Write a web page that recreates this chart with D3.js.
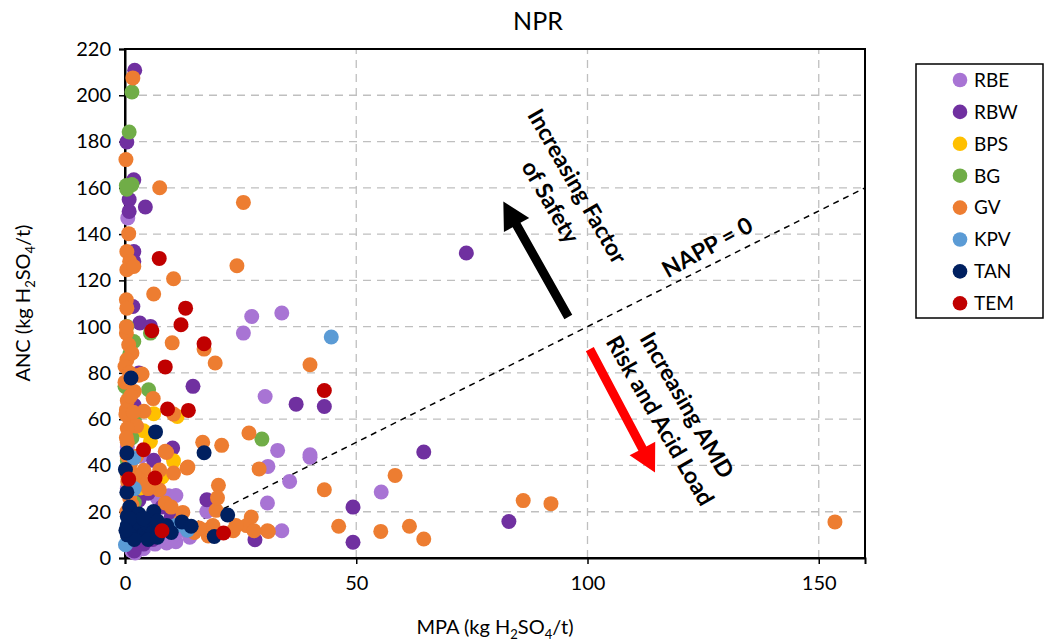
<!DOCTYPE html>
<html><head><meta charset="utf-8">
<script src="https://cdn.jsdelivr.net/npm/d3@7"></script>
<style>
body{margin:0;background:#fff}
svg{display:block}
text{font-family:Lato,"Open Sans",sans-serif;fill:#000}
</style>
</head><body>
<svg id="chart" width="1045" height="642"></svg>
<script>
// ---------- DATA ----------
const seriesNames  = ["RBE","RBW","BPS","BG","GV","KPV","TAN","TEM"];
const seriesColors = ["#A874D4","#7030A0","#FFC000","#70AD47","#ED7D31","#5B9BD5","#002060","#C00000"];
const xTicks = [0,50,100,150];
const yTicks = [0,20,40,60,80,100,120,140,160,180,200,220];

// [MPA, ANC] pairs per site
const RBE = [[27.4,104.4],[33.9,105.9],[25.6,97.2],[30.3,69.8],[33,46.5],[40,44.6],[40,43.6],[30.9,39.6],[35.6,33.1],[30.8,23.8],[55.4,28.5],[33.9,11.8],[17.7,20.1],[0.6,147],[9.4,26.9],[2.2,2.2],[4,4],[6.5,6],[9,6.5],[11,7],[8,9],[10.5,10],[3,8],[5,12],[1,55],[0.5,48],[3.5,44],[12,12],[14,9],[7,26],[11,27],[2,20],[0.5,30],[1.5,3]];
const RBW = [[2.1,210.8],[0.4,179.8],[1.9,163.5],[0.9,154.9],[0.9,149.8],[4.4,151.7],[1.9,132.5],[1.9,128.2],[1.7,108.7],[3.2,101.6],[5.5,100.1],[14.7,74.2],[6.2,42.2],[10.3,47.5],[17.7,25.2],[37,66.5],[43.1,65.5],[64.6,45.8],[49.3,22],[49.3,6.8],[28.1,7.9],[73.8,131.8],[83,15.8],[3,80],[2,66],[5,28],[3,25],[8,22],[4,6],[6,8],[2,3],[10,18],[2,55]];
const BPS = [[11.3,61.2],[6.2,62.4],[5.5,50.4],[10.5,42],[3.3,30.3],[2,58],[4,55],[1,40],[8,35]];
const BG  = [[1.5,201.4],[0.9,184.1],[0.4,159.4],[1.5,161.4],[0.3,161],[0.4,100.1],[5.5,97.2],[1.9,93.6],[0,74.2],[5.1,72.7],[29.6,51.4],[1,88],[2,60],[1.5,52],[0.5,42],[2,24],[1,70]];
const GV  = [[1.7,207.5],[0.2,172.2],[7.5,160],[25.6,153.7],[0.8,140.2],[0.4,132.5],[1,128.2],[0.4,124.6],[1.9,126],[24.2,126.3],[10.5,120.7],[6.2,114.1],[0.3,111.6],[0.4,108],[10.2,93],[17.1,90.3],[0.3,97.2],[0.8,92.2],[1.5,88.6],[0.4,85.7],[0,82.8],[19.5,84.3],[40,83.5],[1,80],[3,79],[3.7,79.5],[6.1,68.9],[10.5,62.2],[4.1,63.4],[0.5,68],[0.3,64],[1,60],[2.5,57],[26.8,54],[16.8,50],[20.9,48.7],[29,38.5],[9,45.6],[8.7,46.1],[13.6,39.3],[4.1,37.9],[10.5,36.7],[20.2,31.4],[43.1,29.5],[7.4,29.5],[8.7,23.8],[12.5,19.7],[19.7,20.6],[27.3,17.7],[26.3,14],[27.9,11.8],[30.8,11.8],[31,11.5],[23.4,11.8],[17.5,12],[18,9.5],[19,14],[15,11],[46.2,13.7],[55.3,11.5],[61.5,13.7],[64.6,8.2],[58.4,35.7],[86.1,24.8],[92.1,23.5],[153.5,15.6],[0.5,50],[0.5,44],[0.5,36],[1,30],[3,17],[10,22],[12,16],[1,26],[5,30],[7.5,38],[2,72],[0,76],[13.4,38.9],[20,26],[0.5,56],[16,13],[24,14],[0.3,100],[1.2,70],[0.2,62],[1.8,63],[0.3,52],[1.2,41],[0.6,33],[1.5,23],[0.4,20],[2.5,44],[3,34],[4.5,32],[2,36]];
const KPV = [[44.6,95.5],[1.9,43.2],[0.1,5.7],[1,10],[13.5,12],[2,30],[11,14]];
const TAN = [[1.3,77.8],[6.6,54.5],[0.4,45.4],[17.1,45.5],[0.1,38.2],[0.4,28.4],[6.2,20.1],[12.3,15.6],[14.3,13.7],[19.3,9.3],[22.2,18.6],[1,22],[0.5,18],[0.5,14],[0.5,10],[2,12],[3,15],[4,10],[5,14],[6,11],[7,16],[8,12],[9,14],[2,8],[3,19],[5,8],[7,9],[1,17],[0.2,12],[4,17],[10,11]];
const TEM = [[7.4,129.5],[13.1,108],[12.1,100.8],[5.8,98.2],[17.1,92.6],[8.7,82.6],[9.2,64.4],[13.7,63.8],[43.1,72.4],[4,46.8],[6.5,34.6],[0.8,34.1],[8,11.8],[21.3,10.8]];
const seriesData = [RBE,RBW,BPS,BG,GV,KPV,TAN,TEM];

// ---------- CHART ----------
const svg = d3.select("#chart");
const x = d3.scaleLinear().domain([0,160]).range([125,865]);
const y = d3.scaleLinear().domain([0,220]).range([558,49]);

// gridlines
svg.append("g").selectAll("line").data(yTicks.filter(d=>d>0&&d<220)).join("line")
  .attr("x1",x(0)).attr("x2",x(160)).attr("y1",d=>y(d)).attr("y2",d=>y(d))
  .attr("stroke","#bfbfbf").attr("stroke-width",1.3).attr("stroke-dasharray","8,6");
svg.append("g").selectAll("line").data(xTicks.filter(d=>d>0)).join("line")
  .attr("y1",y(0)).attr("y2",y(220)).attr("x1",d=>x(d)).attr("x2",d=>x(d))
  .attr("stroke","#bfbfbf").attr("stroke-width",1.3).attr("stroke-dasharray","8,6");

// NAPP = 0 line
svg.append("line").attr("x1",x(0)).attr("y1",y(0)).attr("x2",x(160)).attr("y2",y(160))
  .attr("stroke","#000").attr("stroke-width",1.5).attr("stroke-dasharray","6,5");

// frame
svg.append("rect").attr("x",x(0)).attr("y",y(220)).attr("width",x(160)-x(0)).attr("height",y(0)-y(220))
  .attr("fill","none").attr("stroke","#000").attr("stroke-width",2);

// axes
const yAxis = svg.append("g").attr("transform",`translate(${x(0)},0)`)
  .call(d3.axisLeft(y).tickValues(yTicks).tickSize(6).tickPadding(8));
const xAxis = svg.append("g").attr("transform",`translate(0,${y(0)})`)
  .call(d3.axisBottom(x).tickValues(xTicks).tickSize(6).tickPadding(12));
[yAxis,xAxis].forEach(a=>{
  a.select(".domain").attr("stroke","#000").attr("stroke-width",2);
  a.selectAll(".tick line").attr("stroke","#000").attr("stroke-width",1.5);
  a.selectAll(".tick text").attr("font-size",20).attr("font-family","Lato").attr("fill","#222");
});

// points
seriesData.forEach((data,i)=>{
  svg.append("g").selectAll("circle").data(data).join("circle")
    .attr("cx",d=>x(d[0])).attr("cy",d=>y(d[1])).attr("r",7.5)
    .attr("fill",seriesColors[i]);
});

// arrows
function arrow(d0,d1,color){
  const x0=x(d0[0]),y0=y(d0[1]),x1=x(d1[0]),y1=y(d1[1]);
  const L=Math.hypot(x1-x0,y1-y0), ux=(x1-x0)/L, uy=(y1-y0)/L, px=-uy, py=ux;
  const sw=4.5, hl=27, hw=14.5;
  const bx=x1-ux*hl, by=y1-uy*hl;
  const pts=[[x0+px*sw,y0+py*sw],[bx+px*sw,by+py*sw],[bx+px*hw,by+py*hw],[x1,y1],
             [bx-px*hw,by-py*hw],[bx-px*sw,by-py*sw],[x0-px*sw,y0-py*sw]];
  svg.append("polygon").attr("points",pts.map(p=>p.join(",")).join(" ")).attr("fill",color);
}
arrow([95.85,104.2],[81.8,154.1],"#000");
arrow([100.5,90.3],[114.6,37],"#FF0000");

// annotation text
function rotText(center,angle,lines,spacing){
  const cx=x(center[0]), cy=y(center[1]);
  const a=angle*Math.PI/180, px=-Math.sin(a), py=Math.cos(a);
  lines.forEach((t,k)=>{
    const off=(k-(lines.length-1)/2)*spacing;
    svg.append("text").attr("transform",`translate(${cx+px*off},${cy+py*off}) rotate(${angle})`)
      .attr("text-anchor","middle").attr("dy","0.35em")
      .attr("font-size",23).attr("font-weight",700).text(t);
  });
}
rotText([94.9,157.3],60,["Increasing Factor","of Safety"],31);
rotText([125.9,134.3],-29,["NAPP = 0"],0);
rotText([118.6,62.7],60,["Increasing AMD","Risk and Acid Load"],31);

// title
svg.append("text").attr("x",538).attr("y",30).attr("text-anchor","middle")
  .attr("font-size",25).attr("fill","#222").text("NPR");

// axis titles
const xt = svg.append("text").attr("x",495).attr("y",634).attr("text-anchor","middle")
  .attr("font-size",20).attr("fill","#222");
xt.append("tspan").text("MPA (kg H");
xt.append("tspan").attr("font-size",13).attr("dy",5).text("2");
xt.append("tspan").attr("dy",-5).text("SO");
xt.append("tspan").attr("font-size",13).attr("dy",5).text("4");
xt.append("tspan").attr("dy",-5).text("/t)");

const yt = svg.append("text").attr("transform","translate(30,303) rotate(-90)").attr("text-anchor","middle")
  .attr("font-size",20).attr("fill","#222");
yt.append("tspan").text("ANC (kg H");
yt.append("tspan").attr("font-size",13).attr("dy",5).text("2");
yt.append("tspan").attr("dy",-5).text("SO");
yt.append("tspan").attr("font-size",13).attr("dy",5).text("4");
yt.append("tspan").attr("dy",-5).text("/t)");

// legend
svg.append("rect").attr("x",916).attr("y",64).attr("width",127).attr("height",254)
  .attr("fill","#fff").attr("stroke","#000").attr("stroke-width",1.5);
const lg = svg.append("g").selectAll("g").data(seriesNames).join("g")
  .attr("transform",(d,i)=>`translate(960,${80+i*31.9})`);
lg.append("circle").attr("r",7.3).attr("fill",(d,i)=>seriesColors[i]);
lg.append("text").attr("x",14).attr("dy","0.36em").attr("font-size",19).attr("fill","#222").text(d=>d);
</script>
</body></html>
